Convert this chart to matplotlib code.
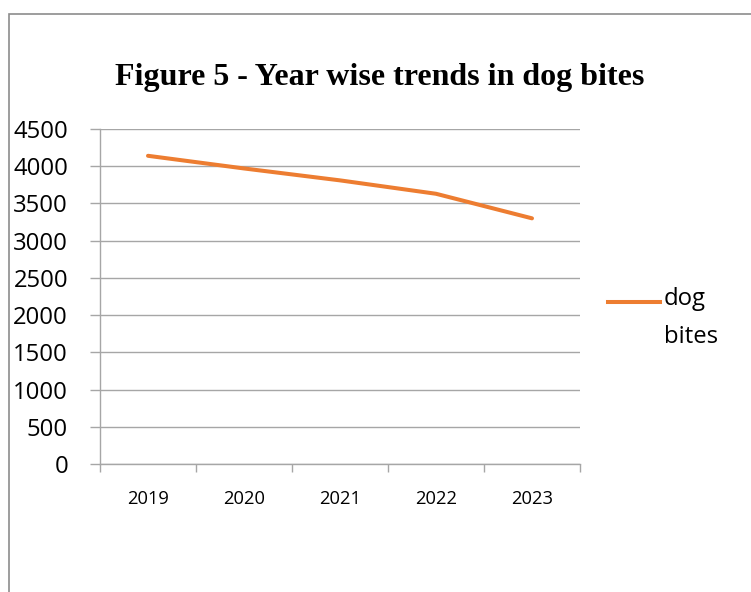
import matplotlib
matplotlib.use('Agg')
import matplotlib.pyplot as plt
from matplotlib.lines import Line2D
from matplotlib.patches import Rectangle

# data
years = ['2019', '2020', '2021', '2022', '2023']
dog_bites = [4140, 3970, 3810, 3630, 3300]
y_ticks = [0, 500, 1000, 1500, 2000, 2500, 3000, 3500, 4000, 4500]

ORANGE = '#ED7D31'
GRID = '#A6A6A6'

plt.rcParams['font.family'] = ['Open Sans', 'DejaVu Sans']

fig = plt.figure(figsize=(7.51, 5.92), dpi=100)

# outer chart border (only left/top visible in the crop)
fig.add_artist(Rectangle((9 / 751, -0.1), 1.2, 1 - 14 / 592 + 0.1,
                         transform=fig.transFigure, fill=False,
                         edgecolor='#8C8C8C', linewidth=1.2))

ax = fig.add_axes([100 / 751, 1 - 464 / 592, 480 / 751, 335 / 592])

x = list(range(len(years)))
ax.plot(x, dog_bites, color=ORANGE, linewidth=2.9, solid_capstyle='round')

ax.set_xlim(-0.5, len(years) - 0.5)
ax.set_ylim(0, 4500)
ax.set_yticks(y_ticks)
ax.set_yticklabels([str(v) for v in y_ticks])
ax.set_xticks(x)
ax.set_xticklabels(years)
ax.set_xticks([i - 0.5 for i in range(len(years) + 1)], minor=True)

ax.grid(axis='y', color=GRID, linewidth=1)
ax.set_axisbelow(True)
for s in ['top', 'right']:
    ax.spines[s].set_visible(False)
for s in ['left', 'bottom']:
    ax.spines[s].set_color(GRID)
    ax.spines[s].set_linewidth(1)

ax.tick_params(axis='y', length=7, color=GRID, width=1, pad=16,
               labelsize=17.2, labelcolor='black')
ax.tick_params(axis='x', which='major', length=0, pad=19,
               labelsize=13.2, labelcolor='black')
ax.tick_params(axis='x', which='minor', length=6, color=GRID, width=1)

fig.text(380 / 751, 1 - 77 / 592, 'Figure 5 - Year wise trends in dog bites',
         family=['Liberation Serif', 'DejaVu Serif'], fontweight='bold',
         fontsize=23, ha='center', va='center')

# legend, drawn by hand so the marker lines up with the first text row
fig.add_artist(Line2D([608 / 751, 660 / 751], [1 - 302 / 592, 1 - 302 / 592],
                      transform=fig.transFigure, color=ORANGE, linewidth=2.9))
fig.text(664 / 751, 1 - 287 / 592, 'dog\nbites', fontsize=17.2,
         ha='left', va='top', linespacing=1.75)

fig.savefig('out.png', dpi=100)
